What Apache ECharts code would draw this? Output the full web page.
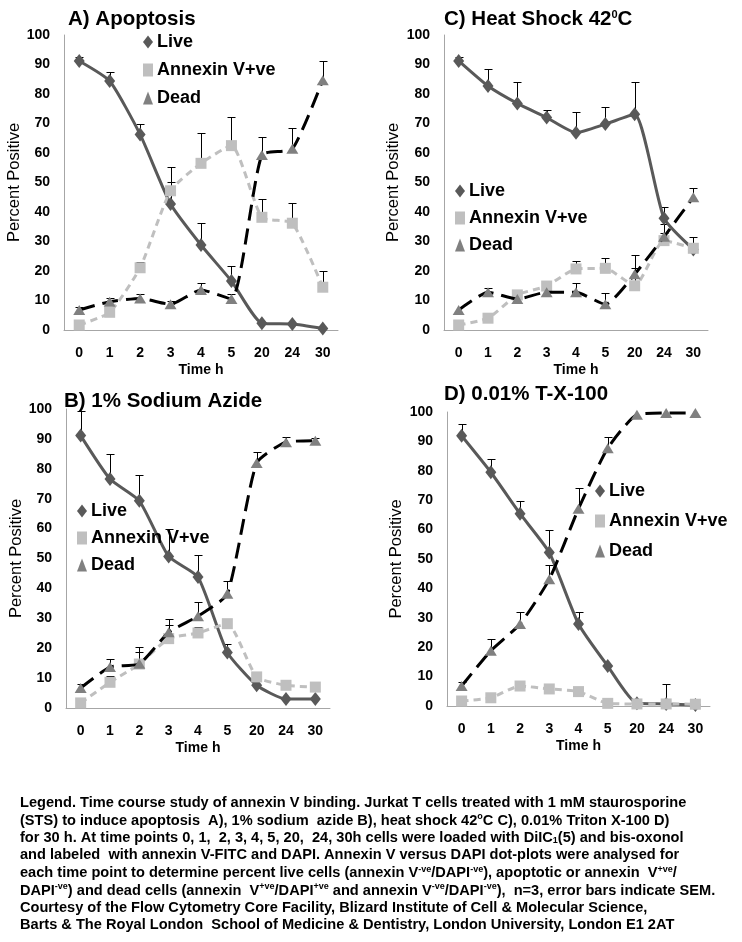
<!DOCTYPE html>
<html>
<head>
<meta charset="utf-8">
<script src="https://cdn.jsdelivr.net/npm/echarts@6/dist/echarts.min.js"></script>
<style>
html,body{margin:0;padding:0;background:#fff;}
#chart{width:742px;height:942px;}
</style>
</head>
<body>
<div id="chart"></div>
<script>
// ---- data ----
const categories = ['0','1','2','3','4','5','20','24','30'];
const yTicks = [0,10,20,30,40,50,60,70,80,90,100];
const seriesNames = ['Live','Annexin V+ve','Dead'];

// A) Apoptosis
const liveA      = [91.2, 84.4, 66.3, 42.7, 28.8, 16.6, 2.3, 2.0, 0.5];
const liveErrA   = [1.5, 3.0, 3.4, 7.5, 7.4, 5.2, 0, 0, 0];
const annexA     = [1.7, 6.0, 21.1, 47.2, 56.5, 62.5, 38.2, 36.2, 14.5];
const annexErrA  = [0, 0, 2.0, 8.1, 10.2, 9.8, 6.3, 7.0, 5.6];
const deadA      = [6.8, 9.6, 10.7, 8.7, 13.6, 10.5, 59.3, 61.4, 84.7];
const deadErrA   = [1.1, 1.4, 1.5, 1.0, 2.4, 1.7, 6.2, 7.0, 6.6];

// C) Heat Shock 42C
const liveC      = [91.2, 82.7, 76.8, 72.0, 66.9, 69.8, 73.1, 37.9, 27.3];
const liveErrC   = [1.5, 5.7, 7.3, 2.6, 6.9, 5.7, 11.0, 3.7, 0];
const annexC     = [1.7, 4.0, 11.9, 14.9, 20.7, 20.9, 15.0, 30.3, 27.7];
const annexErrC  = [0, 0, 1.7, 0, 2.8, 3.4, 6.0, 2.5, 3.7];
const deadC      = [6.8, 12.8, 10.5, 12.8, 12.8, 8.7, 18.9, 31.6, 45.0];
const deadErrC   = [0, 1.3, 3.1, 0, 3.0, 3.7, 6.4, 4.2, 3.2];

// B) 1% Sodium Azide
const liveB      = [91.1, 76.6, 69.3, 50.7, 43.8, 18.6, 7.6, 3.0, 3.0];
const liveErrB   = [8.1, 8.4, 8.7, 9.2, 7.5, 2.8, 0, 0, 0];
const annexB     = [1.7, 8.6, 14.7, 23.2, 25.1, 28.2, 10.4, 7.6, 7.0];
const annexErrB  = [0, 2.0, 4.0, 4.5, 2.0, 0, 1.6, 0, 0];
const deadB      = [6.7, 13.7, 14.8, 25.3, 30.7, 38.2, 81.9, 88.9, 89.4];
const deadErrB   = [1.4, 2.7, 5.5, 4.5, 4.8, 4.2, 3.7, 1.6, 0.9];

// D) 0.01% T-X-100
const liveD      = [91.9, 79.5, 65.4, 52.2, 27.9, 13.6, 0.9, 0.7, 0.3];
const liveErrD   = [4.0, 4.5, 4.2, 7.5, 4.0, 0, 0, 6.8, 0];
const annexD     = [1.7, 2.8, 6.8, 5.8, 4.9, 0.9, 0.7, 0.7, 0.6];
const annexErrD  = [0, 0, 0, 0, 0, 0, 0, 0, 0];
const deadD      = [6.8, 18.8, 27.9, 43.1, 67.1, 87.7, 99.1, 99.7, 99.7];
const deadErrD   = [1.5, 3.9, 4.0, 4.9, 7.2, 3.7, 0, 0, 0];

// ---- layout / style ----
const FONT = '"Liberation Sans", Arial, sans-serif';
const panels = [
  {title:'A) Apoptosis', tl:68, tt:9, grid:{left:64, top:35, width:274, height:295}, nameGap:38,
   leg:{left:143, top:33, gap:10}, data:[liveA,annexA,deadA], err:[liveErrA,annexErrA,deadErrA]},
  {title:'C) Heat Shock 42{sup|0}C', tl:444, tt:9, grid:{left:444, top:35, width:264, height:295}, nameGap:42,
   leg:{left:455, top:182, gap:9}, data:[liveC,annexC,deadC], err:[liveErrC,annexErrC,deadErrC]},
  {title:'B) 1% Sodium Azide', tl:64, tt:391, grid:{left:66, top:409, width:264, height:299}, nameGap:40,
   leg:{left:77, top:502, gap:9}, data:[liveB,annexB,deadB], err:[liveErrB,annexErrB,deadErrB]},
  {title:'D) 0.01% T-X-100', tl:444, tt:384, grid:{left:447, top:412, width:263, height:294}, nameGap:42,
   leg:{left:595, top:482, gap:12}, data:[liveD,annexD,deadD], err:[liveErrD,annexErrD,deadErrD]}
];

const styles = [
  {symbol:'diamond', symbolSize:[11,14], color:'#595959', line:{color:'#595959', width:3, type:'solid'}},
  {symbol:'rect', symbolSize:[11,11], color:'#BFBFBF', line:{color:'#BFBFBF', width:3, type:[7,5]}},
  {symbol:'triangle', symbolSize:[12,10], color:'#808080', line:{color:'#000000', width:3, type:[16,8]}}
];
const legendIcons = ['diamond','rect','triangle'];

const grids=[], xAxes=[], yAxes=[], series=[], titles=[], legends=[];

function errRender(params, api){
  const x = api.value(0), v = api.value(1), e = api.value(2);
  const p0 = api.coord([x, v]);
  const p1 = api.coord([x, v + e]);
  const cx = Math.round(p0[0]) + 0.5;
  const ty = Math.round(p1[1]) + 0.5;
  return {type:'group', children:[
    {type:'line', shape:{x1:cx, y1:p0[1], x2:cx, y2:ty}, style:{stroke:'#000', lineWidth:1}},
    {type:'line', shape:{x1:cx-4, y1:ty, x2:cx+4, y2:ty}, style:{stroke:'#000', lineWidth:1}}
  ]};
}

panels.forEach((p, i) => {
  grids.push(Object.assign({containLabel:false}, p.grid));
  xAxes.push({
    type:'category', gridIndex:i, data:categories, boundaryGap:true,
    axisLine:{lineStyle:{color:'#A6A6A6', width:1}}, axisTick:{show:false},
    axisLabel:{color:'#000', fontWeight:'bold', fontSize:14, fontFamily:FONT, margin:16},
    name:'Time h', nameLocation:'middle', nameGap:33,
    nameTextStyle:{color:'#000', fontWeight:'bold', fontSize:14, fontFamily:FONT}
  });
  yAxes.push({
    type:'value', gridIndex:i, min:yTicks[0], max:yTicks[yTicks.length-1], interval:yTicks[1]-yTicks[0],
    axisLine:{show:true, lineStyle:{color:'#A6A6A6', width:1}}, axisTick:{show:false},
    splitLine:{show:false},
    axisLabel:{color:'#000', fontWeight:'bold', fontSize:14, fontFamily:FONT, margin:14},
    name:'Percent Positive', nameLocation:'middle', nameGap:p.nameGap,
    nameTextStyle:{color:'#000', fontSize:16.5, fontFamily:FONT}
  });
  titles.push({
    text:p.title, left:p.tl, top:p.tt, padding:0,
    textStyle:{color:'#000', fontWeight:'bold', fontSize:20.5, fontFamily:FONT,
      rich:{sup:{fontSize:11, fontWeight:'bold', fontFamily:FONT, color:'#000', verticalAlign:'top', padding:[0,0,10,0]}}}
  });
  legends.push({
    orient:'vertical', left:p.leg.left, top:p.leg.top, itemGap:p.leg.gap, itemWidth:10, itemHeight:13,
    padding:0, selectedMode:false,
    data: seriesNames.map((n, k) => ({name:n, icon:legendIcons[k]})),
    textStyle:{color:'#000', fontWeight:'bold', fontSize:18, fontFamily:FONT, padding:[0,0,0,-1]}
  });
  // error bars first (behind)
  p.data.forEach((arr, k) => {
    const errData = [];
    arr.forEach((v, j) => { if (p.err[k][j] > 0) errData.push([j, v, p.err[k][j]]); });
    series.push({
      type:'custom', name:seriesNames[k]+' err', xAxisIndex:i, yAxisIndex:i, z:1,
      renderItem:errRender, data:errData, encode:{x:0, y:1}, silent:true
    });
  });
  p.data.forEach((arr, k) => {
    const s = styles[k];
    series.push({
      type:'line', name:seriesNames[k], xAxisIndex:i, yAxisIndex:i, z:2+k,
      data:arr, smooth:0.18, symbol:s.symbol, symbolSize:s.symbolSize, showAllSymbol:true,
      itemStyle:{color:s.color, borderWidth:0},
      lineStyle:{color:s.line.color, width:s.line.width, type:s.line.type, cap:'butt'},
      animation:false, silent:true
    });
  });
});

const captionLines = [
  'Legend. Time course study of annexin V binding. Jurkat T cells treated with 1 mM staurosporine',
  '(STS) to induce apoptosis  A), 1% sodium  azide B), heat shock 42{sup|o}C C), 0.01% Triton X-100 D)',
  'for 30 h. At time points 0, 1,  2, 3, 4, 5, 20,  24, 30h cells were loaded with DiIC{sub|1}(5) and bis-oxonol',
  'and labeled  with annexin V-FITC and DAPI. Annexin V versus DAPI dot-plots were analysed for',
  'each time point to determine percent live cells (annexin V{sup|-ve}/DAPI{sup|-ve}), apoptotic or annexin  V{sup|+ve}/',
  'DAPI{sup|-ve}) and dead cells (annexin  V{sup|+ve}/DAPI{sup|+ve} and annexin V{sup|-ve}/DAPI{sup|-ve}),  n=3, error bars indicate SEM.',
  'Courtesy of the Flow Cytometry Core Facility, Blizard Institute of Cell & Molecular Science,',
  'Barts & The Royal London  School of Medicine & Dentistry, London University, London E1 2AT'
];

const captionGraphics = captionLines.map((t, i) => ({
  type:'text', left:20, top:795 + i*17.5, silent:true,
  style:{
    text:t, fill:'#000', font:'bold 14.6px ' + FONT,
    rich:{
      sup:{fontSize:9, fontWeight:'bold', fontFamily:FONT, fill:'#000', verticalAlign:'top', padding:[0,0,7,0]},
      sub:{fontSize:9, fontWeight:'bold', fontFamily:FONT, fill:'#000', padding:[7,0,0,0]}
    }
  }
}));

const chart = echarts.init(document.getElementById('chart'), null, {renderer:'canvas'});
chart.setOption({
  animation:false,
  backgroundColor:'#fff',
  title:titles,
  legend:legends,
  grid:grids,
  xAxis:xAxes,
  yAxis:yAxes,
  series:series,
  graphic:captionGraphics
});
</script>
</body>
</html>
